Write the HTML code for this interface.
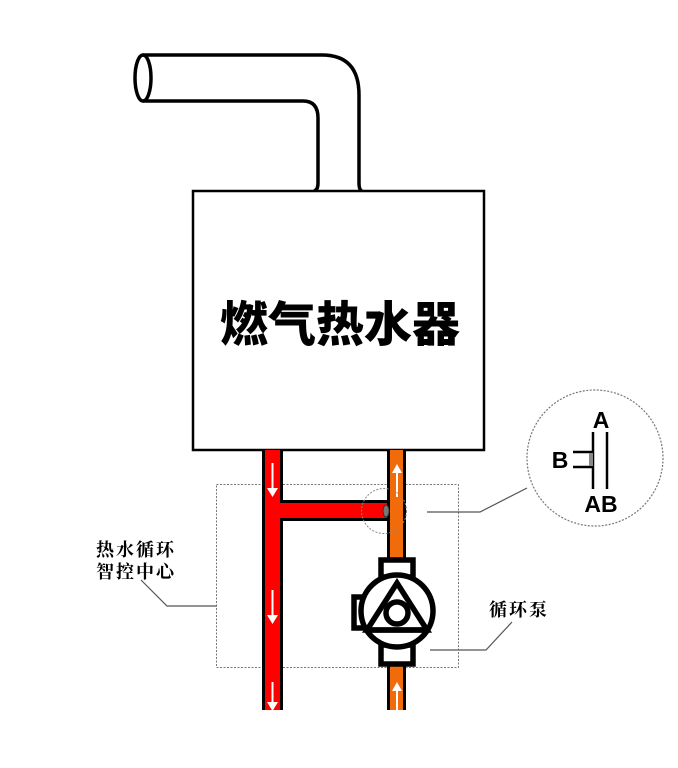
<!DOCTYPE html>
<html><head><meta charset="utf-8"><style>
html,body{margin:0;padding:0;background:#fff;}
svg{display:block;}
</style></head><body>
<svg width="678" height="768" viewBox="0 0 678 768" xmlns="http://www.w3.org/2000/svg">
<g fill="none" stroke="#000" stroke-width="3.5">
<ellipse cx="143" cy="78" rx="8" ry="23"/>
<path d="M143 55 H322 Q359 55 359 95 V183 Q359 190 362 191"/>
<path d="M143 101 H303 Q318 101 318 118 V183 Q318 190 314 191"/>
</g>
<rect x="193" y="191" width="291" height="259" fill="#fff" stroke="#000" stroke-width="2.5"/>
<text x="340" y="341" text-anchor="middle" font-family="'Noto Sans CJK SC',sans-serif" font-weight="900" font-size="48">燃气热水器</text>
<rect x="216.5" y="484.5" width="242" height="183" fill="none" stroke="#777" stroke-width="1" stroke-dasharray="2,1.5"/>
<rect x="262" y="450" width="21" height="260" fill="#f00"/>
<line x1="263.5" y1="450" x2="263.5" y2="710" stroke="#000" stroke-width="3"/>
<line x1="281.5" y1="450" x2="281.5" y2="501" stroke="#000" stroke-width="3"/>
<line x1="281.5" y1="519" x2="281.5" y2="710" stroke="#000" stroke-width="3"/>
<rect x="281" y="500" width="107" height="21" fill="#f00"/>
<line x1="280" y1="501.5" x2="388" y2="501.5" stroke="#000" stroke-width="3"/>
<line x1="280" y1="519.5" x2="388" y2="519.5" stroke="#000" stroke-width="3"/>
<rect x="387" y="450" width="19" height="260" fill="#f26b0a"/>
<line x1="388.5" y1="450" x2="388.5" y2="710" stroke="#000" stroke-width="3"/>
<line x1="404.5" y1="450" x2="404.5" y2="710" stroke="#000" stroke-width="3"/>
<g stroke="#fff" stroke-width="2" fill="#fff">
<line x1="272.5" y1="463" x2="272.5" y2="490"/><path d="M267 488 L272.5 497 L278 488Z" stroke="none"/>
<line x1="272.5" y1="590" x2="272.5" y2="617"/><path d="M267 615 L272.5 624 L278 615Z" stroke="none"/>
<line x1="272.5" y1="682" x2="272.5" y2="705"/><path d="M267 702 L272.5 711 L278 702Z" stroke="none"/>
<line x1="397" y1="470" x2="397" y2="497"/><path d="M392 473 L397 464 L402 473Z" stroke="none"/>
<line x1="397" y1="690" x2="397" y2="710"/><path d="M392 691 L397 682 L402 691Z" stroke="none"/>
</g>
<ellipse cx="386" cy="511" rx="3" ry="6" fill="#777" stroke="#333" stroke-width="1"/>
<circle cx="384" cy="511" r="22.5" fill="none" stroke="#888" stroke-width="1" stroke-dasharray="2,1.5"/>
<g stroke="#000" stroke-width="5.5" fill="#fff">
<rect x="381" y="560" width="32" height="17"/>
<rect x="381" y="645" width="32" height="19"/>
<rect x="354" y="597" width="12" height="31"/>
<circle cx="397" cy="611" r="36"/>
<path d="M397 583 L367 630 L427 630 Z" fill="none"/>
<circle cx="397" cy="613" r="11"/>
</g>
<line x1="365" y1="630" x2="429" y2="630" stroke="#000" stroke-width="5.5"/>
<g fill="none" stroke="#555" stroke-width="1.2">
<path d="M141 580 L167 606 H217"/>
<path d="M430 650 H486 L512 622"/>
<path d="M427 512 H480 L527 488"/>
</g>
<g font-family="'Noto Serif CJK SC',serif" font-weight="bold" font-size="18" letter-spacing="2" fill="#000">
<text x="96" y="556">热水循环</text>
<text x="96" y="578">智控中心</text>
<text x="489" y="616">循环泵</text>
</g>
<circle cx="595" cy="458" r="68" fill="#fff" stroke="#777" stroke-width="1.2" stroke-dasharray="2,1.5"/>
<g stroke="#000" stroke-width="2.5" fill="none">
<line x1="593" y1="432" x2="593" y2="489"/>
<line x1="607" y1="432" x2="607" y2="489"/>
<line x1="573" y1="452" x2="593" y2="452"/>
<line x1="573" y1="467" x2="593" y2="467"/>
</g>
<rect x="589" y="453" width="4" height="13" fill="#888"/>
<g font-family="'Liberation Sans',sans-serif" font-weight="bold" font-size="23" fill="#000" text-anchor="middle">
<text x="601" y="428">A</text>
<text x="560" y="468">B</text>
<text x="601" y="512">AB</text>
</g>
</svg>
</body></html>
